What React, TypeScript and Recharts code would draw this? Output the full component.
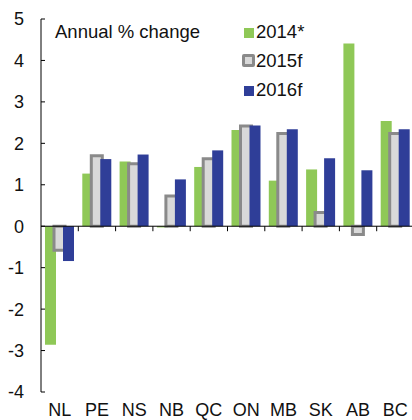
import React from 'react'
import { BarChart, Bar, XAxis, YAxis, ReferenceLine, Legend } from 'recharts'

const provinces = ['NL', 'PE', 'NS', 'NB', 'QC', 'ON', 'MB', 'SK', 'AB', 'BC']
const growth2014 = [-2.86, 1.27, 1.56, -0.03, 1.43, 2.32, 1.1, 1.37, 4.41, 2.54]
const growth2015 = [-0.58, 1.7, 1.51, 0.73, 1.63, 2.42, 2.24, 0.33, -0.2, 2.24]
const growth2016 = [-0.84, 1.62, 1.73, 1.13, 1.83, 2.43, 2.34, 1.64, 1.35, 2.34]
const yTicks = [-4, -3, -2, -1, 0, 1, 2, 3, 4, 5]

const GREEN = '#8fc857'
const GREY_FILL = '#d9d9d9'
const GREY_EDGE = '#8a8a8a'
const BLUE = '#2f3e98'
const FONT = '"Liberation Sans", Arial, sans-serif'

const data = provinces.map((p, i) => ({
  prov: p,
  y2014: growth2014[i],
  y2015: growth2015[i],
  y2016: growth2016[i],
}))

function YTick(props: any) {
  const { x, y, payload } = props
  return (
    <g>
      <line x1={x + 17} x2={x + 21} y1={y} y2={y} stroke="#000" strokeWidth={1} />
      <text x={x} y={y} dy="0.36em" textAnchor="end" fontSize={18} fontFamily={FONT} fill="#111">
        {payload.value}
      </text>
    </g>
  )
}

// zero line with small boundary ticks hanging below it
function ZeroLine(props: any) {
  const { x1, y1, x2 } = props
  const step = (x2 - x1) / provinces.length
  return (
    <g>
      <line x1={x1} x2={x2} y1={y1} y2={y1} stroke="#000" strokeWidth={1} />
      {provinces.map((_, i) => (
        <line key={i} x1={x1 + step * (i + 1)} x2={x1 + step * (i + 1)} y1={y1} y2={y1 + 5} stroke="#000" strokeWidth={1} />
      ))}
    </g>
  )
}

function Marker({ kind }: { kind: string }) {
  if (kind === 'y2015') {
    return (
      <span style={{ display: 'inline-block', width: 13, height: 13, boxSizing: 'border-box', border: `3px solid ${GREY_EDGE}`, background: GREY_FILL, borderRadius: 2 }} />
    )
  }
  return (
    <span style={{ display: 'inline-block', width: 10, height: 10, marginLeft: 1.5, marginRight: 1.5, background: kind === 'y2014' ? GREEN : BLUE }} />
  )
}

function LegendBox(props: any) {
  const items = props.payload || []
  return (
    <div style={{ position: 'relative', fontFamily: FONT, fontSize: 18.5, lineHeight: '29px', color: '#111' }}>
      <div style={{ position: 'absolute', left: 0, top: 0, whiteSpace: 'nowrap' }}>Annual % change</div>
      <div style={{ position: 'absolute', left: 187, top: 0 }}>
        {items.map((it: any) => (
          <div key={it.dataKey} style={{ whiteSpace: 'nowrap' }}>
            <Marker kind={it.dataKey} />
            <span style={{ marginLeft: 1 }}>{it.value}</span>
          </div>
        ))}
      </div>
    </div>
  )
}

export default function App() {
  return (
    <div style={{ position: 'absolute', left: 0, top: 0, width: 412, height: 420, overflow: 'hidden', background: '#fff' }}>
      <BarChart
        width={414}
        height={420}
        data={data}
        margin={{ top: 19, right: 0, bottom: 0, left: 0 }}
        barSize={11}
        barGap={-2}
      >
        <XAxis
          dataKey="prov"
          axisLine={false}
          tickLine={false}
          tickSize={0}
          tickMargin={11}
          height={28}
          interval={0}
          tick={{ fontSize: 18, fontFamily: FONT, fill: '#111' }}
        />
        <YAxis
          width={41}
          domain={[-4, 5]}
          ticks={yTicks}
          interval={0}
          tickLine={false}
          tickSize={0}
          tickMargin={17}
          axisLine={{ stroke: '#000', strokeWidth: 1 }}
          tick={<YTick />}
        />
        <Legend
          layout="horizontal"
          verticalAlign="middle"
          align="center"
          wrapperStyle={{ top: 16.5, left: 55, width: 280, height: 90 }}
          content={<LegendBox />}
        />
        <Bar dataKey="y2014" name="2014*" fill={GREEN} isAnimationActive={false} />
        <Bar dataKey="y2015" name="2015f" fill={GREY_FILL} stroke={GREY_EDGE} strokeWidth={3} isAnimationActive={false} />
        <Bar dataKey="y2016" name="2016f" fill={BLUE} isAnimationActive={false} />
        <ReferenceLine y={0} shape={<ZeroLine />} />
      </BarChart>
    </div>
  )
}
